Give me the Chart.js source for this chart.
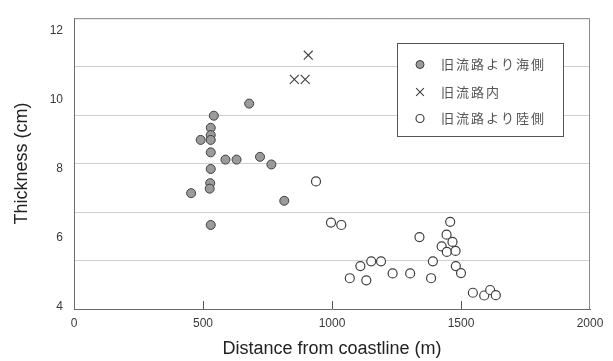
<!DOCTYPE html>
<html><head><meta charset="utf-8">
<script src="https://cdn.jsdelivr.net/npm/chart.js@4/dist/chart.umd.min.js"></script>
<style>html,body{margin:0;padding:0;background:#fff;}canvas{display:block;}</style>
</head><body>
<canvas id="c" width="613" height="361"></canvas>
<script>
// ---- data ----
const seriesNames = ['旧流路より海側', '旧流路内', '旧流路より陸側'];

const seawardX = [679, 542, 530, 530, 491, 530, 530, 587, 630, 721, 765, 530, 528, 526, 454, 815, 530];
const seawardY = [9.88, 9.53, 9.18, 8.97, 8.83, 8.83, 8.47, 8.26, 8.26, 8.34, 8.12, 7.99, 7.58, 7.42, 7.29, 7.07, 6.37];

const channelX = [908, 854, 896];
const channelY = [11.28, 10.58, 10.58];

const landwardX = [938, 996, 1036, 1339, 1110, 1152, 1190, 1069, 1133, 1235, 1303, 1458, 1444, 1467, 1425, 1445, 1479, 1391, 1384, 1480, 1500, 1546, 1590, 1613, 1635];
const landwardY = [7.63, 6.44, 6.37, 6.02, 5.18, 5.32, 5.32, 4.83, 4.77, 4.97, 4.97, 6.46, 6.09, 5.88, 5.75, 5.59, 5.62, 5.32, 4.83, 5.18, 4.98, 4.41, 4.33, 4.49, 4.34];

const xTickLabels = [0, 500, 1000, 1500, 2000];
const yTickLabels = [4, 6, 8, 10, 12];
const xTitle = 'Distance from coastline (m)';
const yTitle = 'Thickness (cm)';

// ---- setup ----
const yMin = 3.94, yMax = 12.35, gridDivisions = 6;
const LATIN = '"Liberation Sans", Arial, sans-serif';
const CJK = '"Noto Sans CJK JP", "Noto Sans CJK SC", sans-serif';

const toPts = (xs, ys) => xs.map((x, i) => ({ x: x, y: ys[i] }));

const styles = [
  { pointStyle: 'circle', radius: 4.5, legendRadius: 4, backgroundColor: '#9b9b9b', borderColor: '#3f3f3f', borderWidth: 1 },
  { pointStyle: 'crossRot', radius: 6.3, legendRadius: 5.5, backgroundColor: '#3f3f3f', borderColor: '#3f3f3f', borderWidth: 1.1 },
  { pointStyle: 'circle', radius: 4.5, legendRadius: 4, backgroundColor: '#ffffff', borderColor: '#3f3f3f', borderWidth: 1.2 }
];

const datasets = [toPts(seawardX, seawardY), toPts(channelX, channelY), toPts(landwardX, landwardY)].map((d, i) => ({
  label: seriesNames[i],
  data: d,
  showLine: false,
  pointStyle: styles[i].pointStyle,
  pointRadius: styles[i].radius,
  pointHoverRadius: styles[i].radius,
  pointBackgroundColor: styles[i].backgroundColor,
  pointBorderColor: styles[i].borderColor,
  pointBorderWidth: styles[i].borderWidth,
  yAxisID: 'y'
}));

const boxPlugin = {
  id: 'box',
  beforeDatasetsDraw(chart) {
    const { ctx, chartArea: a } = chart;
    ctx.save();
    ctx.strokeStyle = '#8a8a8a';
    ctx.lineWidth = 1;
    ctx.beginPath();
    ctx.moveTo(a.left, a.top + 0.5);
    ctx.lineTo(a.right - 0.5, a.top + 0.5);
    ctx.lineTo(a.right - 0.5, a.bottom);
    ctx.stroke();
    // inward tick marks on the x axis (interior ticks only)
    const xs = chart.scales.x;
    ctx.strokeStyle = '#555555';
    ctx.beginPath();
    xTickLabels.slice(1, -1).forEach(v => {
      const px = Math.round(xs.getPixelForValue(v)) + 0.5;
      ctx.moveTo(px, a.bottom);
      ctx.lineTo(px, a.bottom - 8);
    });
    ctx.stroke();
    ctx.restore();
  }
};

const legendPlugin = {
  id: 'boxLegend',
  afterDraw(chart) {
    const ctx = chart.ctx;
    const bx = 397, by = 43, bw = 166, bh = 93;
    ctx.save();
    ctx.fillStyle = '#ffffff';
    ctx.fillRect(bx, by, bw, bh);
    ctx.strokeStyle = '#555555';
    ctx.lineWidth = 1;
    ctx.strokeRect(bx + 0.5, by + 0.5, bw, bh);
    const rows = [64.5, 92, 118.5];
    chart.data.datasets.forEach((ds, i) => {
      const s = styles[i];
      ctx.fillStyle = s.backgroundColor;
      ctx.strokeStyle = s.borderColor;
      ctx.lineWidth = s.borderWidth;
      Chart.helpers.drawPoint(ctx, { pointStyle: s.pointStyle, radius: s.legendRadius, rotation: 0, borderWidth: s.borderWidth }, 420, rows[i]);
      ctx.fillStyle = '#555555';
      ctx.font = '13px ' + CJK;
      ctx.letterSpacing = '2px';
      ctx.textAlign = 'left';
      ctx.textBaseline = 'middle';
      ctx.fillText(ds.label, 441, rows[i]);
      ctx.letterSpacing = '0px';
    });
    ctx.restore();
  }
};

new Chart(document.getElementById('c'), {
  type: 'scatter',
  data: { datasets: datasets },
  plugins: [boxPlugin, legendPlugin],
  options: {
    responsive: false,
    devicePixelRatio: 1,
    animation: false,
    layout: { padding: { top: 17, right: 23, left: 0, bottom: 0 } },
    plugins: { legend: { display: false }, tooltip: { enabled: false } },
    scales: {
      x: {
        type: 'linear', position: 'bottom', min: 0, max: 2000,
        afterBuildTicks: s => { s.ticks = xTickLabels.map(v => ({ value: v })); },
        grid: { drawOnChartArea: false, drawTicks: false },
        border: { display: true, color: '#6a6a6a', width: 1 },
        ticks: { color: '#3a3a3a', font: { size: 12, family: LATIN }, padding: 7, maxRotation: 0, autoSkip: false, callback: v => String(v) },
        title: { display: true, text: xTitle, color: '#222222', font: { size: 18, family: LATIN }, padding: { top: 0, bottom: 1 } },
        afterFit: s => { s.height = 52; }
      },
      y: {
        type: 'linear', position: 'left', min: yMin, max: yMax,
        afterBuildTicks: s => { s.ticks = yTickLabels.map(v => ({ value: v })); },
        grid: { display: false, drawTicks: false },
        border: { display: true, color: '#6a6a6a', width: 1 },
        ticks: { color: '#3a3a3a', font: { size: 12, family: LATIN }, padding: 11, callback: v => String(v) },
        title: { display: true, text: yTitle, color: '#222222', font: { size: 18, family: LATIN }, padding: { top: 11, bottom: 0 } },
        afterFit: s => { s.width = 74; }
      },
      yg: {
        type: 'linear', position: 'left', min: yMin, max: yMax,
        afterBuildTicks: s => {
          const t = [];
          for (let k = 0; k <= gridDivisions; k++) t.push({ value: yMin + k * (yMax - yMin) / gridDivisions });
          s.ticks = t;
        },
        grid: { color: '#d0d0d0', drawTicks: false, lineWidth: 1 },
        border: { display: false },
        ticks: { display: false },
        afterFit: s => { s.width = 0; }
      }
    }
  }
});
</script>
</body></html>
